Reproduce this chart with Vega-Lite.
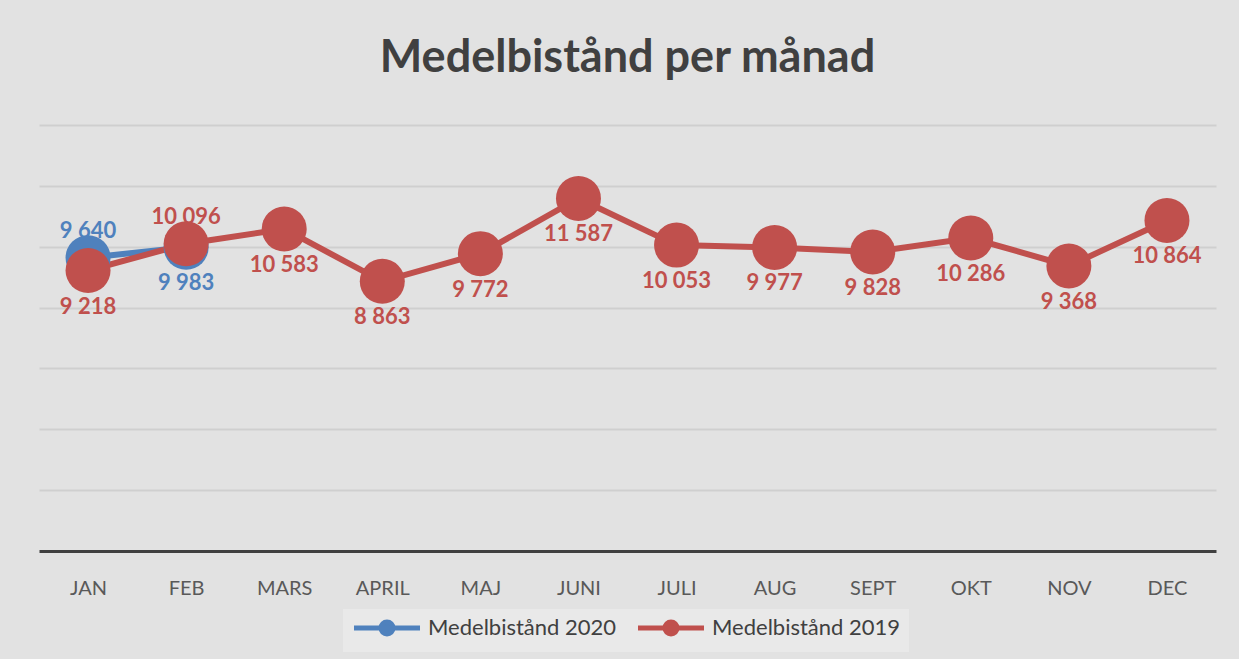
{
  "$schema": "https://vega.github.io/schema/vega-lite/v6.json",
  "width": 1177,
  "height": 426,
  "autosize": "none",
  "padding": {"left": 39, "top": 125, "right": 23, "bottom": 108},
  "background": "#e2e2e2",
  "title": {
    "text": "Medelbistånd per månad",
    "font": "Lato",
    "fontSize": 45,
    "fontWeight": "bold",
    "color": "#404040",
    "anchor": "middle",
    "baseline": "alphabetic",
    "offset": 8
  },
  "data": {
    "values": [
      {"month": "JAN", "series": "Medelbistånd 2020", "value": 9640},
      {"month": "FEB", "series": "Medelbistånd 2020", "value": 9983},
      {"month": "JAN", "series": "Medelbistånd 2019", "value": 9218},
      {"month": "FEB", "series": "Medelbistånd 2019", "value": 10096},
      {"month": "MARS", "series": "Medelbistånd 2019", "value": 10583},
      {"month": "APRIL", "series": "Medelbistånd 2019", "value": 8863},
      {"month": "MAJ", "series": "Medelbistånd 2019", "value": 9772},
      {"month": "JUNI", "series": "Medelbistånd 2019", "value": 11587},
      {"month": "JULI", "series": "Medelbistånd 2019", "value": 10053},
      {"month": "AUG", "series": "Medelbistånd 2019", "value": 9977},
      {"month": "SEPT", "series": "Medelbistånd 2019", "value": 9828},
      {"month": "OKT", "series": "Medelbistånd 2019", "value": 10286},
      {"month": "NOV", "series": "Medelbistånd 2019", "value": 9368},
      {"month": "DEC", "series": "Medelbistånd 2019", "value": 10864}
    ]
  },
  "encoding": {
    "x": {
      "field": "month",
      "type": "ordinal",
      "sort": ["JAN", "FEB", "MARS", "APRIL", "MAJ", "JUNI", "JULI", "AUG", "SEPT", "OKT", "NOV", "DEC"],
      "scale": {"type": "point", "padding": 0.5},
      "axis": {
        "title": null,
        "labelAngle": 0,
        "labelFont": "Lato",
        "labelFontSize": 20,
        "labelColor": "#595959",
        "ticks": false,
        "tickSize": 0,
        "labelPadding": 27,
        "domainColor": "#404040",
        "domainWidth": 3,
        "grid": false
      }
    },
    "y": {
      "field": "value",
      "type": "quantitative",
      "scale": {"domain": [0, 14000], "nice": false},
      "axis": {
        "title": null,
        "labels": false,
        "ticks": false,
        "domain": false,
        "grid": true,
        "gridColor": "#cfcfcf",
        "gridWidth": 2,
        "values": [2000, 4000, 6000, 8000, 10000, 12000, 14000]
      }
    },
    "color": {
      "field": "series",
      "type": "nominal",
      "scale": {"domain": ["Medelbistånd 2020", "Medelbistånd 2019"], "range": ["#4F81BD", "#C0504D"]},
      "legend": {
        "orient": "none",
        "legendX": 304,
        "legendY": 484,
        "direction": "horizontal",
        "title": null,
        "labelFont": "Lato",
        "labelFontSize": 22,
        "labelColor": "#404040",
        "labelLimit": 0,
        "symbolType": "M-5.5,0L5.5,0M1,0A1,1,0,1,1,-1,0A1,1,0,1,1,1,0Z",
        "symbolSize": 144,
        "symbolStrokeWidth": 5,
        "symbolOffset": 25,
        "labelOffset": 30,
        "columnPadding": 11,
        "fillColor": "#e9e9e9",
        "padding": 8,
        "symbolOpacity": 1,
        "encode": {
          "symbols": {
            "update": {
              "fill": {"scale": "color", "field": "value"},
              "stroke": {"scale": "color", "field": "value"},
              "strokeWidth": {"value": 5},
              "opacity": {"value": 1}
            }
          }
        }
      }
    }
  },
  "layer": [
    {"mark": {"type": "line", "strokeWidth": 6}},
    {"mark": {"type": "point", "filled": true, "size": 2025, "opacity": 1}},
    {
      "transform": [{"filter": "(datum.series == 'Medelbistånd 2020' && datum.month == 'JAN') || (datum.series == 'Medelbistånd 2019' && datum.month == 'FEB')"}],
      "mark": {"type": "text", "dy": -27, "font": "Lato", "fontSize": 22, "fontWeight": "bold", "baseline": "middle"},
      "encoding": {"text": {"field": "value", "type": "quantitative", "format": ",d"}}
    },
    {
      "transform": [{"filter": "!((datum.series == 'Medelbistånd 2020' && datum.month == 'JAN') || (datum.series == 'Medelbistånd 2019' && datum.month == 'FEB'))"}],
      "mark": {"type": "text", "dy": 36, "font": "Lato", "fontSize": 22, "fontWeight": "bold", "baseline": "middle"},
      "encoding": {"text": {"field": "value", "type": "quantitative", "format": ",d"}}
    }
  ],
  "config": {
    "view": {"stroke": null},
    "locale": {
      "number": {"decimal": ",", "thousands": " ", "grouping": [3], "currency": ["", " kr"]}
    }
  }
}
